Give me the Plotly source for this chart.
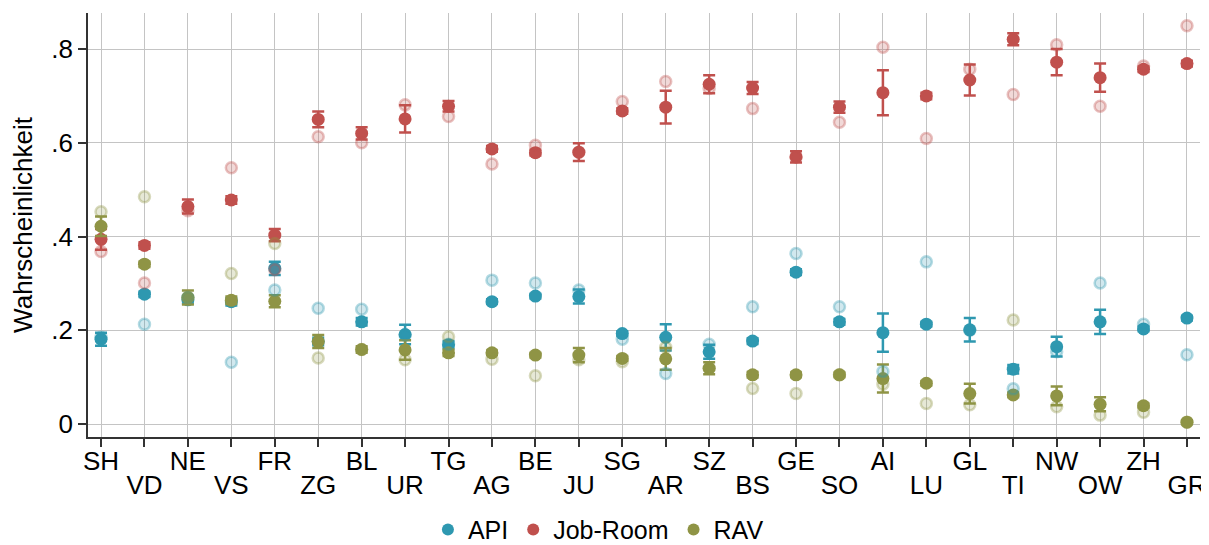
import plotly.graph_objects as go

cantons = ["SH","VD","NE","VS","FR","ZG","BL","UR","TG","AG","BE","JU","SG",
           "AR","SZ","BS","GE","SO","AI","LU","GL","TI","NW","OW","ZH","GR"]

api = [0.181,0.277,0.265,0.261,0.332,0.176,0.218,0.191,0.169,0.261,0.273,0.272,0.193,
       0.185,0.154,0.177,0.324,0.218,0.195,0.213,0.201,0.117,0.165,0.218,0.203,0.226]
api_err = [0.014,0.006,0.008,0.008,0.014,0.008,0.008,0.021,0.008,0.005,0.005,0.015,0.005,
           0.028,0.015,0.006,0.006,0.006,0.041,0.005,0.025,0.009,0.021,0.026,0.005,0.005]
api_raw = [0.185,0.213,0.270,0.132,0.286,0.247,0.245,0.190,0.170,0.307,0.301,0.286,0.181,
           0.108,0.170,0.250,0.364,0.250,0.112,0.346,0.200,0.075,0.154,0.301,0.213,0.148]

jr = [0.394,0.381,0.464,0.478,0.403,0.650,0.620,0.651,0.678,0.587,0.579,0.580,0.668,
      0.676,0.725,0.717,0.570,0.676,0.707,0.700,0.734,0.821,0.772,0.739,0.757,0.769]
jr_err = [0.022,0.007,0.015,0.008,0.013,0.017,0.013,0.029,0.011,0.006,0.006,0.019,0.006,
          0.035,0.019,0.013,0.012,0.012,0.048,0.007,0.033,0.013,0.028,0.030,0.006,0.006]
jr_raw = [0.368,0.301,0.455,0.547,0.329,0.613,0.600,0.681,0.656,0.555,0.595,0.580,0.688,
          0.731,0.716,0.673,0.570,0.644,0.804,0.609,0.757,0.703,0.809,0.678,0.764,0.850]

rav = [0.422,0.341,0.270,0.264,0.262,0.176,0.159,0.158,0.152,0.152,0.147,0.147,0.140,
       0.139,0.119,0.105,0.105,0.105,0.097,0.087,0.065,0.062,0.060,0.042,0.039,0.004]
rav_err = [0.021,0.006,0.015,0.008,0.013,0.014,0.007,0.021,0.007,0.005,0.005,0.015,0.005,
           0.023,0.013,0.006,0.005,0.005,0.030,0.005,0.021,0.005,0.020,0.015,0.005,0.004]
rav_raw = [0.453,0.485,0.270,0.321,0.385,0.141,0.159,0.137,0.186,0.138,0.103,0.137,0.133,
           0.164,0.119,0.076,0.065,0.105,0.085,0.044,0.041,0.222,0.037,0.019,0.025,0.004]

ytick_vals = [0, 0.2, 0.4, 0.6, 0.8]
ytick_text = ["0", ".2", ".4", ".6", ".8"]

series = [
    ("API", api, api_err, api_raw, (46, 152, 176)),
    ("Job-Room", jr, jr_err, jr_raw, (192, 80, 77)),
    ("RAV", rav, rav_err, rav_raw, (143, 148, 69)),
]

idx = list(range(len(cantons)))
fig = go.Figure()

for name, vals, err, raw, c in series:
    r, g, b = c
    fig.add_trace(go.Scatter(
        x=idx, y=raw, mode="markers", showlegend=False, hoverinfo="skip",
        xaxis="x2",
        marker=dict(size=11, color=f"rgba({r},{g},{b},0.22)",
                    line=dict(color=f"rgba({r},{g},{b},0.35)", width=2.5)),
    ))

for name, vals, err, raw, c in series:
    r, g, b = c
    col = f"rgb({r},{g},{b})"
    fig.add_trace(go.Scatter(
        x=idx, y=vals, mode="markers", name=name,
        marker=dict(size=13, color=col, line=dict(width=0)),
        error_y=dict(type="data", array=err, color=col, thickness=2.5, width=6),
    ))

even_text = [c if i % 2 == 0 else "" for i, c in enumerate(cantons)]
odd_text = [c if i % 2 == 1 else "" for i, c in enumerate(cantons)]

font = "Liberation Sans, Arial, sans-serif"
FS = 26
xr = [-0.3, 25.3]
fig.update_layout(
    width=1201, height=537,
    margin=dict(l=80, r=9, t=5, b=108, autoexpand=False),
    paper_bgcolor="white", plot_bgcolor="white",
    font=dict(family=font, size=FS, color="black"),
    showlegend=True,
    legend=dict(orientation="h", x=0.459, xanchor="center", y=-0.219, yanchor="middle",
                font=dict(size=25), itemsizing="constant", tracegroupgap=0,
                itemwidth=30),
    xaxis=dict(
        range=xr, tickmode="array", tickvals=idx, ticktext=even_text,
        showgrid=True, gridcolor="#c4c4c4", gridwidth=1,
        showline=True, linecolor="#333", linewidth=1.5,
        ticks="outside", ticklen=8, tickcolor="#333", tickwidth=1.5,
        tickfont=dict(size=FS), zeroline=False, tickangle=0, automargin=False,
        ticklabelstandoff=-8,
    ),
    xaxis2=dict(
        range=xr, overlaying="x", side="bottom", anchor="y",
        tickmode="array", tickvals=idx, ticktext=odd_text,
        showgrid=False, showline=False, ticks="", zeroline=False, tickangle=0,
        tickfont=dict(size=FS), ticklabelstandoff=30, automargin=False,
    ),
    yaxis=dict(
        range=[-0.0277, 0.877], tickmode="array", tickvals=ytick_vals, ticktext=ytick_text,
        showgrid=True, gridcolor="#c4c4c4", gridwidth=1,
        showline=True, linecolor="#333", linewidth=1.5,
        ticks="outside", ticklen=8, tickcolor="#333", tickwidth=1.5,
        tickfont=dict(size=FS), zeroline=False, automargin=False,
        title=dict(text="Wahrscheinlichkeit", font=dict(size=FS), standoff=11),
    ),
)

fig.write_html("out.html")
